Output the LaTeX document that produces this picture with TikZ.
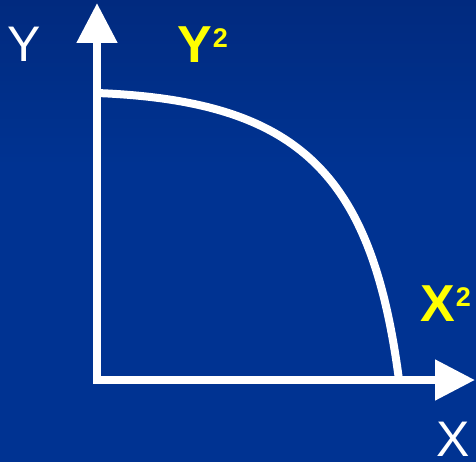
\documentclass[tikz,border=0pt]{standalone}
\usepackage{fontspec}
\setmainfont{Liberation Sans}
\usetikzlibrary{arrows.meta}
\definecolor{bgtop}{RGB}{2,30,100}
\definecolor{bgbot}{RGB}{0,51,146}
\definecolor{labyellow}{RGB}{255,255,0}
\pgfdeclareverticalshading{bgshade}{100bp}{
  color(0bp)=(bgbot); color(57bp)=(bgbot); color(100bp)=(bgtop)}
\tikzset{
  axisline/.style={white, line width=8pt, line join=miter,
    {Triangle[length=40pt,width=39pt]}-{Triangle[length=40pt,width=39pt]}},
  curveline/.style={white, line width=8pt},
  axlabel/.style={white, inner sep=0pt, anchor=base west, font=\fontsize{50}{50}\selectfont},
  curvelabel/.style={labyellow, inner sep=0pt, anchor=base west, font=\fontsize{52}{52}\selectfont\bfseries},
}
\newcommand{\supnum}[1]{\kern1pt\raisebox{15pt}{\fontsize{27}{27}\selectfont\bfseries #1}}
\begin{document}
\begin{tikzpicture}[x=1pt,y=1pt]
\useasboundingbox (0,0) rectangle (476,461);
\shade[shading=bgshade] (0,0) rectangle (476,461);
\coordinate (O) at (97,81);
\coordinate (ytip) at (97,458);
\coordinate (xtip) at (475,81);
\coordinate (cstart) at (97,368);
\coordinate (cend) at (399,81);
\draw[axisline] (ytip) -- (O) -- (xtip);
\draw[curveline] (cstart) .. controls (300,360) and (372,287) .. (cend);
\node[axlabel] (ylab) at (7,399) {Y};
\node[axlabel] (xlab) at (436,5) {X};
\node[curvelabel] (y2) at (177,398) {Y\supnum{2}};
\node[curvelabel] (x2) at (420,140) {X\supnum{2}};
\end{tikzpicture}
\end{document}
